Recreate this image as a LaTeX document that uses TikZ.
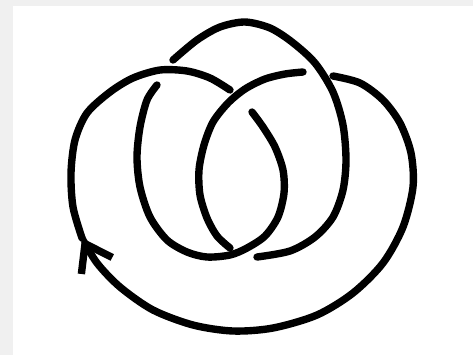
\documentclass[tikz,border=0pt]{standalone}
\usepackage{tikz}
\usetikzlibrary{arrows.meta}

\begin{document}
\begin{tikzpicture}[x=0.2mm, y=-0.2mm, >=Stealth,
    strand/.style={draw=black, line width=4.2pt, line cap=round}]
    % 背景
    \fill[black!6] (0,0) rectangle (473,355);
    \fill[white] (13,6) rectangle (473,355);
    \useasboundingbox (0,0) rectangle (473,355);

    % 外圈 (带箭头)
    \draw[strand, -{Straight Barb[length=5mm, width=7mm]}] plot[smooth] coordinates {
        (333,76) (360,83) (383,100) (400,123) (411,153) (413,187) (403,227)
        (383,263) (353,293) (317,315) (273,328) (233,331) (193,325) (153,310)
        (120,287) (97,263) (82,238)};
    \draw[strand] plot[smooth] coordinates {
        (82,238) (73,207) (71,173) (75,140) (87,113) (110,92) (133,78)
        (160,70) (187,71) (210,78) (230,90)};

    % 右内环与左环
    \draw[strand] plot[smooth] coordinates {
        (252,112) (263,127) (275,147) (283,170) (284,193) (278,217) (265,236)
        (247,248) (230,255) (207,257) (187,252) (167,240) (150,217) (140,187)
        (137,157) (140,127) (147,100) (157,85)};

    % 上弧与右侧
    \draw[strand] plot[smooth] coordinates {
        (173,60) (197,40) (220,27) (245,22) (270,28) (292,42) (315,63)
        (333,92) (343,125) (346,160) (343,190) (333,217) (315,237) (290,251)
        (257,257)};

    % 中间斜线
    \draw[strand] plot[smooth] coordinates {
        (303,72) (285,74) (265,79) (245,89) (228,103) (213,122) (204,145)
        (199,170) (200,195) (207,218) (217,236) (230,248)};
\end{tikzpicture}
\end{document}
